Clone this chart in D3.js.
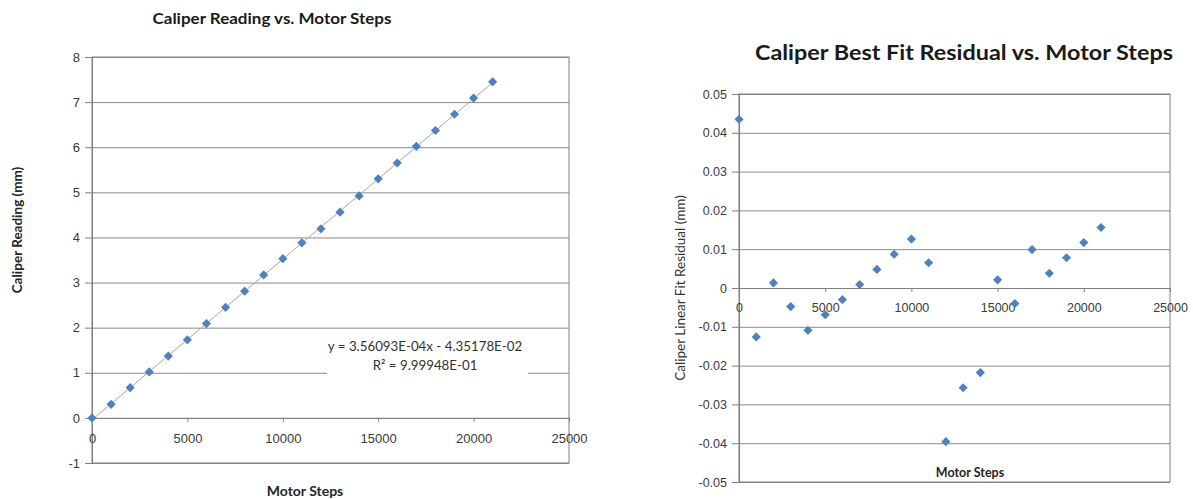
<!DOCTYPE html>
<html>
<head>
<meta charset="utf-8">
<script src="https://cdn.jsdelivr.net/npm/d3@7"></script>
<style>
body {margin:0; background:#fff;}
svg {display:block; font-family: Lato, "Open Sans", sans-serif;}
</style>
</head>
<body>
<svg id="chart" width="1193" height="499"></svg>
<script>
// values
var motorSteps = [0,1000,2000,3000,4000,5000,6000,7000,8000,9000,10000,
                  11000,12000,13000,14000,15000,16000,17000,18000,19000,20000,21000]
var caliperReading = [0,0.30,0.67,1.02,1.37,1.73,2.09,2.45,2.81,3.17,3.53,
                      3.88,4.19,4.56,4.92,5.30,5.65,6.02,6.37,6.73,7.09,7.45]
var fitResidual = [0.0435,-0.0126,0.0013,-0.0048,-0.0109,-0.0069,-0.0030,0.0009,0.0048,0.0087,0.0126,
                   0.0065,-0.0396,-0.0257,-0.0218,0.0021,-0.0040,0.0099,0.0038,0.0078,0.0117,0.0156]

var fitSlope = 3.56093e-4
var fitIntercept = -4.35178e-2
var equationLines = ["y = 3.56093E-04x  - 4.35178E-02", "R\u00b2 = 9.99948E-01"]

var stepTicks = [0,5000,10000,15000,20000,25000]
var readingTicks = [-1,0,1,2,3,4,5,6,7,8]
var residualTicks = [-0.05,-0.04,-0.03,-0.02,-0.01,0,0.01,0.02,0.03,0.04,0.05]

var gridColor = "#8a8a8a"
var markColor = "#4f81bd"
var svg = d3.select("#chart")

var drawPanel = function(p)
{
    var xScale = d3.scaleLinear()
        .domain([0,25000])
        .range([p.left, p.right])

    var yScale = d3.scaleLinear()
        .domain(p.yDomain)
        .range([p.bottom, p.top])

    var g = svg.append("g")

    // gridlines
    g.append("g")
        .attr("transform","translate("+p.left+",0)")
        .call(d3.axisLeft(yScale).tickValues(p.yTicks).tickSize(-(p.right-p.left)).tickFormat(""))
        .call(function(s){ s.select(".domain").remove() })
        .selectAll("line").attr("stroke",gridColor)

    // plot border
    g.append("rect")
        .attr("x",p.left).attr("y",p.top)
        .attr("width",p.right-p.left).attr("height",p.bottom-p.top)
        .attr("fill","none").attr("stroke","#7f7f7f")

    // y axis
    var yAxis = g.append("g")
        .attr("transform","translate("+p.left+",0)")
        .call(d3.axisLeft(yScale).tickValues(p.yTicks).tickSize(7).tickSizeOuter(0).tickPadding(5)
              .tickFormat(function(d){ return String(d) }))
    yAxis.select(".domain").attr("stroke","#7f7f7f")
    yAxis.selectAll("line").attr("stroke","#7f7f7f")
    yAxis.selectAll("text").attr("fill","#3a3a3a").attr("font-size",p.tickFont)

    // x axis sits on y = 0
    var xAxis = g.append("g")
        .attr("transform","translate(0,"+yScale(0)+")")
        .call(d3.axisBottom(xScale).tickValues(stepTicks).tickSize(4).tickSizeOuter(0).tickPadding(p.xPad)
              .tickFormat(function(d){ return String(d) }))
    xAxis.select(".domain").attr("stroke","#7f7f7f")
    xAxis.selectAll("line").attr("stroke","#7f7f7f")
    xAxis.selectAll("text").attr("fill","#3a3a3a").attr("font-size",p.tickFont)

    if (p.trend)
    {
        var ends = [motorSteps[0], motorSteps[motorSteps.length-1]]
        g.append("line")
            .attr("x1",xScale(ends[0])).attr("y1",yScale(fitSlope*ends[0]+fitIntercept))
            .attr("x2",xScale(ends[1])).attr("y2",yScale(fitSlope*ends[1]+fitIntercept))
            .attr("stroke","#a6a6a6").attr("stroke-width",1)
    }

    g.append("g").selectAll("path")
        .data(p.values)
        .enter()
        .append("path")
        .attr("d", d3.symbol(d3.symbolSquare, 42))
        .attr("transform", function(d,i)
              {
                return "translate("+xScale(motorSteps[i])+","+yScale(d)+") rotate(45)"
              })
        .attr("fill",markColor)

    return {x:xScale, y:yScale, g:g}
}

var left = drawPanel({left:92, right:569, top:57, bottom:463, yDomain:[-1,8], yTicks:readingTicks,
                      values:caliperReading, trend:true, tickFont:13, xPad:12})
var right = drawPanel({left:739, right:1170, top:94, bottom:482, yDomain:[-0.05,0.05], yTicks:residualTicks,
                       values:fitResidual, trend:false, tickFont:12.5, xPad:11})

// trendline label with white box
var box = left.g.append("g")
box.append("rect")
    .attr("x",327).attr("y",334).attr("width",201).attr("height",44)
    .attr("fill","#fff")
box.selectAll("text")
    .data(equationLines)
    .enter()
    .append("text")
    .text(function(d){ return d })
    .attr("x",425)
    .attr("y",function(d,i){ return 351+i*19 })
    .attr("text-anchor","middle")
    .attr("font-size",13.3)
    .attr("fill","#333")

// titles
var labels = svg.append("g")
labels.append("text")
    .text("Caliper Reading vs. Motor Steps")
    .attr("x",272).attr("y",24)
    .attr("text-anchor","middle")
    .attr("font-size",15.5).attr("font-weight","bold").attr("fill","#1a1a1a")
    .attr("textLength",239).attr("lengthAdjust","spacingAndGlyphs")
labels.append("text")
    .text("Caliper Best Fit Residual vs. Motor Steps")
    .attr("x",964).attr("y",60)
    .attr("text-anchor","middle")
    .attr("font-size",21).attr("font-weight","bold").attr("fill","#1a1a1a")
    .attr("textLength",418).attr("lengthAdjust","spacingAndGlyphs")

labels.append("text")
    .text("Motor Steps")
    .attr("x",305).attr("y",496)
    .attr("text-anchor","middle")
    .attr("font-size",14).attr("font-weight","bold").attr("fill","#262626")
labels.append("text")
    .text("Motor Steps")
    .attr("x",970).attr("y",477)
    .attr("text-anchor","middle")
    .attr("font-size",12.5).attr("font-weight","bold").attr("fill","#262626")

labels.append("g")
    .attr("transform","translate(22,230)")
    .append("text")
    .text("Caliper Reading (mm)")
    .attr("text-anchor","middle")
    .attr("transform","rotate(270)")
    .attr("font-size",13.5).attr("font-weight","bold").attr("fill","#262626")
labels.append("g")
    .attr("transform","translate(685,288)")
    .append("text")
    .text("Caliper Linear Fit Residual  (mm)")
    .attr("text-anchor","middle")
    .attr("transform","rotate(270)")
    .attr("font-size",13.5).attr("fill","#333")
</script>
</body>
</html>
